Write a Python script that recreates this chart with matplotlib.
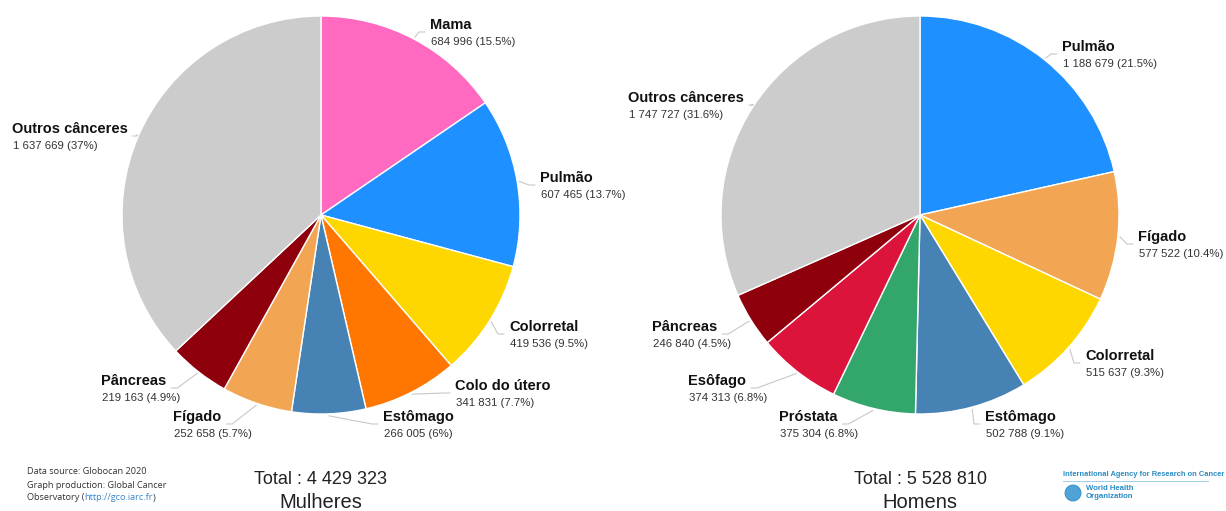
import numpy as np
import matplotlib
matplotlib.use("Agg")
import matplotlib.pyplot as plt
from matplotlib.patches import Circle

plt.rcParams["font.family"] = ["Liberation Sans", "DejaVu Sans"]

W, H = 1226, 511

# dados (Globocan 2020) -------------------------------------------------------
mulheres_labels = ["Mama", "Pulmão", "Colorretal", "Colo do útero", "Estômago",
                   "Fígado", "Pâncreas", "Outros cânceres"]
mulheres_values = [684996, 607465, 419536, 341831, 266005, 252658, 219163, 1637669]
mulheres_pct = ["15.5%", "13.7%", "9.5%", "7.7%", "6%", "5.7%", "4.9%", "37%"]
mulheres_colors = ["#FF69BF", "#1E90FF", "#FFD700", "#FF7700", "#4682B4",
                   "#F2A654", "#8E000C", "#CCCCCC"]

homens_labels = ["Pulmão", "Fígado", "Colorretal", "Estômago", "Próstata",
                 "Esôfago", "Pâncreas", "Outros cânceres"]
homens_values = [1188679, 577522, 515637, 502788, 375304, 374313, 246840, 1747727]
homens_pct = ["21.5%", "10.4%", "9.3%", "9.1%", "6.8%", "6.8%", "4.5%", "31.6%"]
homens_colors = ["#1E90FF", "#F2A654", "#FFD700", "#4682B4", "#33A66B",
                 "#DC143C", "#8E000C", "#CCCCCC"]

# posição dos rótulos (px: x esquerdo, y do nome)
mulheres_lblpos = [(430, 25), (540, 178), (509, 327), (455, 386), (383, 417),
                   (173, 417), (101, 381), (12, 129)]
homens_lblpos = [(1062, 47), (1138, 237), (1085, 356), (985, 417), (779, 417),
                 (688, 381), (652, 327), (628, 98)]


def fmt(v):
    return f"{v:,}".replace(",", " ")


def Y(y):
    return H - y


fig = plt.figure(figsize=(W / 100, H / 100), dpi=100)
ax = fig.add_axes([0, 0, 1, 1])
renderer = fig.canvas.get_renderer()


def set_limits():
    ax.set_xlim(0, W)
    ax.set_ylim(0, H)
    ax.set_aspect("equal")


def right_edge(t):
    bb = t.get_window_extent(renderer)
    return ax.transData.inverted().transform((bb.x1, bb.y0))[0]


def draw_pie(values, labels, pcts, colors, lblpos, cx, cy, r):
    ax.pie(values, colors=colors, startangle=90, counterclock=False,
           center=(cx, Y(cy)), radius=r,
           wedgeprops=dict(edgecolor="white", linewidth=1.0))
    set_limits()
    total = float(sum(values))
    cum = 0.0
    for v, name, pct, (lx, ly) in zip(values, labels, pcts, lblpos):
        theta = np.deg2rad(90 - 360 * (cum + v / 2) / total)
        cum += v
        tn = ax.text(lx, Y(ly), name, fontsize=10.5, fontweight="bold",
                     color="#111111", ha="left", va="center")
        ax.text(lx + 1, Y(ly + 17), f"{fmt(v)} ({pct})", fontsize=8.2,
                color="#333333", ha="left", va="center")
        # conector
        x0 = cx + (r + 2) * np.cos(theta)
        y0 = Y(cy) + (r + 2) * np.sin(theta)
        if np.cos(theta) >= 0:
            ex = lx - 5
            sx = ex - 6
        else:
            ex = right_edge(tn) + 5
            sx = ex + 6
        ey = Y(ly + 7)
        ax.plot([x0, sx, ex], [y0, ey, ey], color="#C8C8C8", lw=0.8,
                solid_capstyle="round", zorder=0)


set_limits()
draw_pie(mulheres_values, mulheres_labels, mulheres_pct, mulheres_colors,
         mulheres_lblpos, 321, 215, 199)
draw_pie(homens_values, homens_labels, homens_pct, homens_colors,
         homens_lblpos, 920, 215, 199)
set_limits()
ax.axis("off")

# totais
for cx, vals, grp in [(321, mulheres_values, "Mulheres"), (920, homens_values, "Homens")]:
    ax.text(cx, Y(479), f"Total : {fmt(sum(vals))}", fontsize=13,
            color="#222222", ha="center", va="center")
    ax.text(cx, Y(502), grp, fontsize=14.5, color="#222222",
            ha="center", va="center")

# fonte dos dados
src_kw = dict(fontsize=6.6, color="#333333", ha="left", va="center",
              family=["Open Sans", "DejaVu Sans"])
ax.text(27, Y(472), "Data source: Globocan 2020", **src_kw)
ax.text(27, Y(485), "Graph production: Global Cancer", **src_kw)
t1 = ax.text(27, Y(498), "Observatory (", **src_kw)
t2 = ax.text(right_edge(t1), Y(498), "http://gco.iarc.fr",
             **{**src_kw, "color": "#3B86C8"})
ax.text(right_edge(t2), Y(498), ")", **src_kw)

# logotipos IARC / OMS
ax.text(1063, Y(474), "International Agency for Research on Cancer",
        fontsize=5.4, fontweight="bold", color="#2A8CC4", ha="left",
        va="center")
ax.plot([1063, 1208], [Y(481), Y(481)], color="#9FD0EA", lw=0.7)
ax.add_patch(Circle((1073, Y(493)), 8, facecolor="#4FA3D6",
                    edgecolor="#2A8CC4", lw=0.6))
ax.text(1086, Y(489), "World Health", fontsize=5.6, fontweight="bold",
        color="#2A8CC4", ha="left", va="center")
ax.text(1086, Y(497), "Organization", fontsize=5.6, fontweight="bold",
        color="#2A8CC4", ha="left", va="center")

fig.savefig("out.png", dpi=100, facecolor="white")
